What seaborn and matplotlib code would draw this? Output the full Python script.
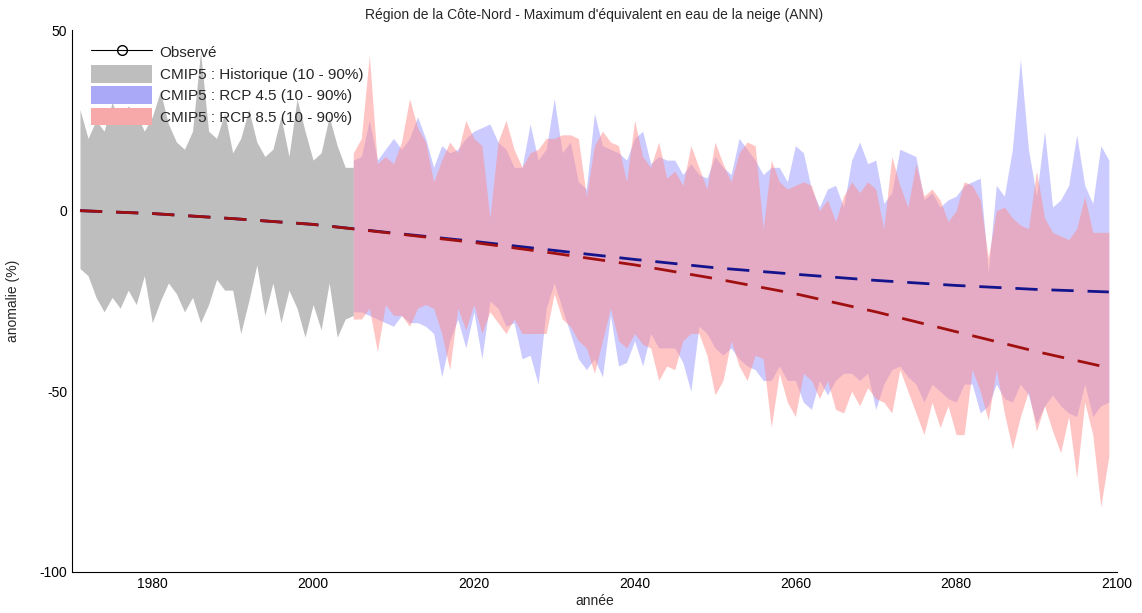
import numpy as np
import matplotlib
matplotlib.use("Agg")
import matplotlib.pyplot as plt
from matplotlib.lines import Line2D
from matplotlib.patches import Patch
import seaborn as sns
import pandas as pd

# Historical period (CMIP5 10-90% band)
years_hist = list(range(1971, 2006))
hist_upper = [28, 20, 25, 22, 30, 24, 29, 27, 22, 26, 33, 24, 19, 17, 22, 44, 22, 20, 27, 16,
              20, 28, 19, 15, 17, 26, 15, 31, 22, 14, 16, 26, 18, 12, 12]
hist_lower = [-16, -18, -24, -28, -24, -27, -22, -26, -18, -31, -25, -20, -23, -28, -24, -31, -26, -19, -22, -22,
              -34, -25, -15, -29, -20, -31, -22, -27, -35, -26, -33, -20, -35, -30, -29]

# Scenario period (starts at the last historical year)
years_rcp = list(range(2005, 2100))
rcp45_upper = [14, 15, 25, 14, 17, 20, 17, 20, 26, 20, 12, 18, 16, 17, 20, 22, 23, 24, 19, 17, 12,
               12, 24, 14, 17, 31, 16, 19, 8, 6, 27, 18,
               17, 16, 14, 20, 22, 13, 15, 14, 14, 10, 13, 10, 9, 15, 12, 10, 20, 17, 14, 10,
               12, 12, 8, 18, 16, 6, 1, 6, 7, 1, 14, 19, 13, 14,
               2, 5, 17, 16, 15, 3, 5, 1, 3, 4, 7, 8, 9, -17, 7, 4, 17, 42, 17, 4,
               22, 1, 3, 7, 21, 7, 2, 18, 14]
rcp45_lower = [-28, -28, -29, -30, -31, -32, -29, -31, -31, -32, -34, -46, -36, -30, -38, -28, -41, -25, -27, -32, -31,
               -41, -40, -48, -27, -20, -27, -34, -41, -44, -41, -46,
               -29, -43, -42, -36, -43, -34, -38, -38, -38, -42, -50, -32, -34, -38, -40, -38, -41, -43, -44, -47,
               -47, -43, -47, -47, -53, -55, -47, -51, -47, -45, -45, -47, -45, -55,
               -48, -44, -43, -46, -48, -53, -48, -50, -52, -53, -48, -48, -56, -54, -48, -52, -53, -48, -51, -59,
               -54, -51, -54, -56, -57, -48, -57, -54, -53]
rcp85_upper = [16, 20, 43, 13, 15, 13, 19, 31, 23, 19, 8, 14, 19, 16, 25, 20, 18, -2, 19, 25, 17,
               12, 16, 17, 20, 20, 21, 21, 20, 4, 18, 22,
               19, 18, 8, 25, 15, 12, 19, 9, 11, 7, 18, 12, 6, 19, 13, 8, 16, 19, 18, -5,
               14, 8, 6, 7, 8, 7, 0, 3, -3, 4, 8, 5, 8, 6,
               -5, 15, 7, 1, 13, 4, 6, 3, -3, 0, 8, 7, 3, -13, 0, 1, -2, -4, -5, 11,
               -2, -6, -7, -8, -5, 4, -6, -6, -6]
rcp85_lower = [-30, -30, -27, -39, -26, -29, -29, -32, -27, -26, -27, -34, -44, -27, -33, -26, -34, -28, -31, -34, -30,
               -34, -34, -34, -34, -23, -30, -32, -36, -38, -45, -36,
               -27, -36, -38, -34, -37, -38, -47, -43, -44, -36, -34, -34, -40, -51, -47, -36, -43, -47, -40, -41,
               -60, -45, -53, -57, -45, -47, -52, -47, -55, -56, -50, -54, -49, -52,
               -53, -56, -44, -50, -56, -62, -53, -60, -54, -62, -62, -44, -50, -58, -44, -56, -66, -57, -50, -61,
               -54, -61, -67, -57, -74, -53, -62, -82, -68]

# Smoothed ensemble medians
years_med = [1971, 1980, 1990, 2000, 2010, 2020, 2030, 2040, 2050, 2060, 2070, 2080, 2090, 2099]
rcp45_median = [0, -0.8, -2.2, -3.8, -6.2, -8.5, -11, -13.5, -15.8, -17.6, -19.3, -20.7, -21.8, -22.5]
rcp85_median = [0, -0.8, -2.2, -3.8, -6.3, -8.8, -11.8, -15, -18.8, -23, -28, -33.5, -39, -43.5]

gray_col = '#bebebe'
blue_col = (0.55, 0.55, 1.0)
pink_col = (1.0, 0.55, 0.55)

sns.set_style("white")
plt.rcParams['font.family'] = ['Liberation Sans', 'DejaVu Sans']
plt.rcParams['axes.unicode_minus'] = False

fig = plt.figure(figsize=(11.42, 6.13), dpi=100)
ax = fig.add_axes([0.063, 0.067, 0.915, 0.884])

ax.fill_between(years_hist, hist_lower, hist_upper, color=gray_col, linewidth=0)
ax.fill_between(years_rcp, rcp45_lower, rcp45_upper, color=blue_col, alpha=0.45, linewidth=0)
ax.fill_between(years_rcp, rcp85_lower, rcp85_upper, color=pink_col, alpha=0.5, linewidth=0)

med = pd.DataFrame({'year': years_med, 'rcp45': rcp45_median, 'rcp85': rcp85_median})
sns.lineplot(data=med, x='year', y='rcp45', color='#14148c', linewidth=2, ax=ax)
sns.lineplot(data=med, x='year', y='rcp85', color='#a01010', linewidth=2, ax=ax)
for ln in ax.lines:
    ln.set_dashes((8, 5))

ax.set_xlim(1970, 2100)
ax.set_ylim(-100, 50)
ax.set_xticks([1980, 2000, 2020, 2040, 2060, 2080, 2100])
ax.set_yticks([-100, -50, 0, 50])
ax.tick_params(direction='in', length=5, labelsize=10, colors='black')
for s in ['top', 'right']:
    ax.spines[s].set_visible(False)
for s in ['left', 'bottom']:
    ax.spines[s].set_color('black')
    ax.spines[s].set_linewidth(0.8)

ax.set_title("Région de la Côte-Nord - Maximum d'équivalent en eau de la neige (ANN)", fontsize=10, pad=8)
ax.set_xlabel('année', fontsize=10, labelpad=2)
ax.set_ylabel('anomalie (%)', fontsize=10, labelpad=14)

handles = [
    Line2D([], [], color='black', linewidth=0.8, marker='o', markerfacecolor='none', markersize=7),
    Patch(facecolor=gray_col, edgecolor='none'),
    Patch(facecolor='#a9a9f7', edgecolor='none'),
    Patch(facecolor='#f7a9a9', edgecolor='none'),
]
labels = ['Observé', 'CMIP5 : Historique (10 - 90%)', 'CMIP5 : RCP 4.5 (10 - 90%)', 'CMIP5 : RCP 8.5 (10 - 90%)']
ax.legend(handles, labels, loc='upper left', bbox_to_anchor=(0.008, 0.995), frameon=False, fontsize=11,
          handlelength=4, handleheight=1.4, labelspacing=0.25, handletextpad=0.5, borderaxespad=0.3)

fig.savefig('out.png', dpi=100)
